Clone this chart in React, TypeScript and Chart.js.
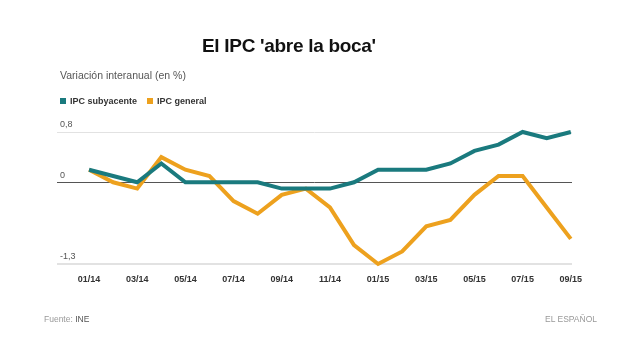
import React, { useEffect, useRef } from "react";
import { Chart, registerables } from "chart.js";

Chart.register(...registerables);

const months = [
  "01/14", "02/14", "03/14", "04/14", "05/14", "06/14", "07/14", "08/14", "09/14", "10/14", "11/14", "12/14",
  "01/15", "02/15", "03/15", "04/15", "05/15", "06/15", "07/15", "08/15", "09/15",
];
const subyacente = [0.2, 0.1, 0.0, 0.3, 0.0, 0.0, 0.0, 0.0, -0.1, -0.1, -0.1, 0.0, 0.2, 0.2, 0.2, 0.3, 0.5, 0.6, 0.8, 0.7, 0.8];
const general = [0.2, 0.0, -0.1, 0.4, 0.2, 0.1, -0.3, -0.5, -0.2, -0.1, -0.4, -1.0, -1.3, -1.1, -0.7, -0.6, -0.2, 0.1, 0.1, -0.4, -0.9];
const seriesNames = ["IPC subyacente", "IPC general"];
const seriesColors = ["#1a7a7e", "#eda11e"];
const yTickValues = [0.8, 0, -1.3];
const yTickLabels = ["0,8", "0", "-1,3"];

const FONT = "'Liberation Sans', Arial, Helvetica, sans-serif";

export default function App() {
  const ref = useRef<HTMLCanvasElement | null>(null);

  useEffect(() => {
    if (!ref.current) return;
    const toPts = (arr: number[]) => arr.map((v, i) => ({ x: i, y: v }));
    const chart = new Chart(ref.current, {
      type: "line",
      data: {
        datasets: [
          {
            label: seriesNames[0],
            data: toPts(subyacente),
            borderColor: seriesColors[0],
            backgroundColor: seriesColors[0],
            borderWidth: 4,
            pointRadius: 0,
            tension: 0,
            clip: false as any,
          },
          {
            label: seriesNames[1],
            data: toPts(general),
            borderColor: seriesColors[1],
            backgroundColor: seriesColors[1],
            borderWidth: 4,
            pointRadius: 0,
            tension: 0,
            clip: false as any,
          },
        ],
      },
      options: {
        responsive: false,
        animation: false,
        devicePixelRatio: 1,
        layout: { padding: { left: 57, right: 68, top: 132, bottom: 0 } },
        plugins: {
          legend: { display: false },
          title: { display: false },
          tooltip: { enabled: false },
        },
        scales: {
          x: {
            type: "linear",
            min: -1.33,
            max: 20.05,
            grid: { display: false, drawTicks: false },
            border: { display: false },
            afterBuildTicks: (scale: any) => {
              scale.ticks = months
                .map((_, i) => ({ value: i }))
                .filter((t) => t.value % 2 === 0);
            },
            afterFit: (scale: any) => {
              scale.height = 96;
            },
            ticks: {
              autoSkip: false,
              maxRotation: 0,
              padding: 10,
              color: "#333",
              font: { family: FONT, size: 9, weight: "bold" },
              callback: (v: any) => months[Number(v)] ?? "",
            },
          },
          y: {
            type: "linear",
            min: -1.3,
            max: 0.8,
            border: { display: false },
            grid: {
              drawTicks: false,
              color: (ctx: any) => (ctx.tick && ctx.tick.value === 0 ? "#555555" : "#e2e2e2"),
              lineWidth: (ctx: any) => (ctx.tick && ctx.tick.value === -1.3 ? 2 : 1),
            },
            afterBuildTicks: (scale: any) => {
              scale.ticks = yTickValues.map((v) => ({ value: v }));
            },
            afterFit: (scale: any) => {
              scale.width = 0;
            },
            ticks: {
              mirror: true,
              padding: 3,
              labelOffset: -7,
              color: "#555",
              font: { family: FONT, size: 9 },
              callback: (v: any) => {
                const idx = yTickValues.indexOf(Number(v));
                return idx >= 0 ? yTickLabels[idx] : "";
              },
            },
          },
        },
      },
    });
    return () => chart.destroy();
  }, []);

  const abs = (s: React.CSSProperties): React.CSSProperties => ({ position: "absolute", whiteSpace: "nowrap", fontFamily: FONT, ...s });

  return (
    <div style={{ position: "fixed", left: 0, top: 0, width: 640, height: 360, background: "#fff", overflow: "hidden" }}>
      <canvas ref={ref} width={640} height={360} style={{ position: "absolute", left: 0, top: 0, width: 640, height: 360 }} />
      <div style={abs({ left: 202, top: 35.5, fontSize: 19, lineHeight: "19px", letterSpacing: -0.3, fontWeight: "bold", color: "#111" })}>
        El IPC 'abre la boca'
      </div>
      <div style={abs({ left: 60, top: 69.5, fontSize: 10.5, lineHeight: "10.5px", color: "#555" })}>
        Variación interanual (en %)
      </div>
      <div style={abs({ left: 60, top: 96.5, fontSize: 9, lineHeight: "9px", fontWeight: "bold", color: "#333", display: "flex", alignItems: "center" })}>
        {seriesNames.map((n, i) => (
          <span key={n} style={{ display: "inline-flex", alignItems: "center", marginRight: 10 }}>
            <span style={{ display: "inline-block", width: 6, height: 6, background: seriesColors[i], marginRight: 4 }} />
            {n}
          </span>
        ))}
      </div>
      <div style={abs({ left: 44, top: 315, fontSize: 8.5, lineHeight: "8.5px", color: "#999" })}>
        Fuente: <span style={{ color: "#555" }}>INE</span>
      </div>
      <div style={abs({ right: 43, top: 315, fontSize: 8.5, lineHeight: "8.5px", color: "#999" })}>
        EL ESPAÑOL
      </div>
    </div>
  );
}
